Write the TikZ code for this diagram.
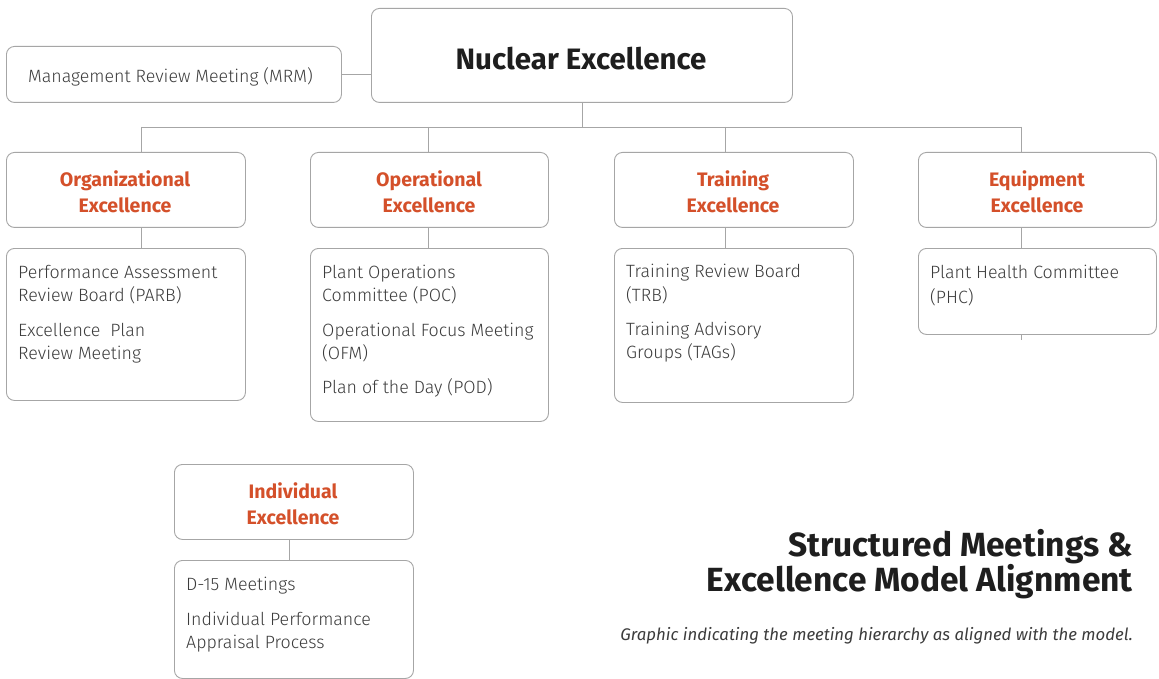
\documentclass[tikz,border=0pt]{standalone}
\usepackage{fontspec}
\setmainfont{Fira Sans}
\newfontfamily\lightfont{Fira Sans Light}
\definecolor{boxgray}{HTML}{A6A6A6}
\definecolor{orangered}{HTML}{D4502A}
\definecolor{textgray}{HTML}{3C3C3C}
\definecolor{titleblack}{HTML}{1E1E1E}
\begin{document}
\begin{tikzpicture}[x=1pt,y=-1pt,
  box/.style={draw=boxgray, line width=0.9pt, rounded corners=8pt, inner sep=0pt, anchor=north west},
  conn/.style={draw=boxgray, line width=0.9pt},
  head/.style={text=orangered, font=\bfseries\fontsize{19.5}{26}\selectfont, anchor=base, inner sep=0pt},
  item/.style={text=textgray, font=\lightfont\fontsize{17.8}{23}\selectfont, anchor=base west, inner sep=0pt}]
\useasboundingbox[fill=white] (0,0) rectangle (1159,679);

% top level
\node[box, minimum width=335pt, minimum height=56pt] (mrm) at (6,46) {};
\node[box, minimum width=421pt, minimum height=94pt] (nuc) at (371,8) {};
\node[anchor=base, inner sep=0pt, text=titleblack, font=\bfseries\fontsize{29.5}{32}\selectfont] (nuct) at (581,70) {Nuclear Excellence};
\node[item] (mrmt) at (28,83) {Management Review Meeting (MRM)};
\draw[conn] (mrm.east) -- (mrm.east -| nuc.west);

% second level headers
\node[box, minimum width=239pt, minimum height=75pt] (org) at (6,152) {};
\node[box, minimum width=238pt, minimum height=75pt] (ope) at (310,152) {};
\node[box, minimum width=239pt, minimum height=75pt] (tra) at (614,152) {};
\node[box, minimum width=238pt, minimum height=75pt] (equ) at (918,152) {};

\coordinate (bus) at (581,127);
\coordinate (c1) at (141,127);
\coordinate (c2) at (428,127);
\coordinate (c3) at (725,127);
\coordinate (c4) at (1021,127);
\draw[conn] (nuc.south) -- (nuc.south |- bus);
\draw[conn] (c1) -- (c4);
\draw[conn] (c1) -- (c1 |- org.north);
\draw[conn] (c2) -- (c2 |- ope.north);
\draw[conn] (c3) -- (c3 |- tra.north);
\draw[conn] (c4) -- (c4 |- equ.north);

\node[head] (orgh1) at (125,186.5) {Organizational};
\node[head] (orgh2) at (125,212.5) {Excellence};
\node[head] (opeh1) at (429,186.5) {Operational};
\node[head] (opeh2) at (429,212.5) {Excellence};
\node[head] (trah1) at (733,186.5) {Training};
\node[head] (trah2) at (733,212.5) {Excellence};
\node[head] (equh1) at (1037,186.5) {Equipment};
\node[head] (equh2) at (1037,212.5) {Excellence};

% detail boxes
\node[box, minimum width=239pt, minimum height=152pt] (orgd) at (6,248) {};
\node[box, minimum width=238pt, minimum height=173pt] (oped) at (310,248) {};
\node[box, minimum width=239pt, minimum height=154pt] (trad) at (614,248) {};
\node[box, minimum width=238pt, minimum height=86pt] (equd) at (918,248) {};
\draw[conn] (c1 |- org.south) -- (c1 |- orgd.north);
\draw[conn] (c2 |- ope.south) -- (c2 |- oped.north);
\draw[conn] (c3 |- tra.south) -- (c3 |- trad.north);
\draw[conn] (c4 |- equ.south) -- (c4 |- equd.north);
\coordinate (equtail) at (1021,340);
\draw[conn] (equtail |- equd.south) -- (equtail);

\node[item] (o1) at (18,278) {Performance Assessment};
\node[item] (o2) at (18,301) {Review Board (PARB)};
\node[item] (o3) at (18,336) {Excellence\ \ Plan};
\node[item] (o4) at (18,359) {Review Meeting};

\node[item] (p1) at (322,278) {Plant Operations};
\node[item] (p2) at (322,301) {Committee (POC)};
\node[item] (p3) at (322,336) {Operational Focus Meeting};
\node[item] (p4) at (322,359) {(OFM)};
\node[item] (p5) at (322,393) {Plan of the Day (POD)};

\node[item] (t1) at (626,277) {Training Review Board};
\node[item] (t2) at (626,301) {(TRB)};
\node[item] (t3) at (626,335) {Training Advisory};
\node[item] (t4) at (626,358) {Groups (TAGs)};

\node[item] (e1) at (930,278) {Plant Health Committee};
\node[item] (e2) at (930,303) {(PHC)};

% individual
\node[box, minimum width=239pt, minimum height=75pt] (ind) at (174,464) {};
\node[box, minimum width=239pt, minimum height=118pt] (indd) at (174,560) {};
\coordinate (c5) at (289,0);
\draw[conn] (c5 |- ind.south) -- (c5 |- indd.north);
\node[head] (indh1) at (293,498.5) {Individual};
\node[head] (indh2) at (293,524.5) {Excellence};
\node[item] (i1) at (186,590) {D-15 Meetings};
\node[item] (i2) at (186,625) {Individual Performance};
\node[item] (i3) at (186,648) {Appraisal Process};

% title
\node[anchor=base east, inner sep=0pt, text=titleblack, font=\bfseries\fontsize{33.5}{36}\selectfont] (tt1) at (1133,556) {Structured Meetings \&};
\node[anchor=base east, inner sep=0pt, text=titleblack, font=\bfseries\fontsize{33.5}{36}\selectfont] (tt2) at (1133,591) {Excellence Model Alignment};
\node[anchor=base east, inner sep=0pt, text=textgray, font=\itshape\fontsize{16.8}{20}\selectfont] (cap) at (1133,640) {Graphic indicating the meeting hierarchy as aligned with the model.};
\end{tikzpicture}
\end{document}
